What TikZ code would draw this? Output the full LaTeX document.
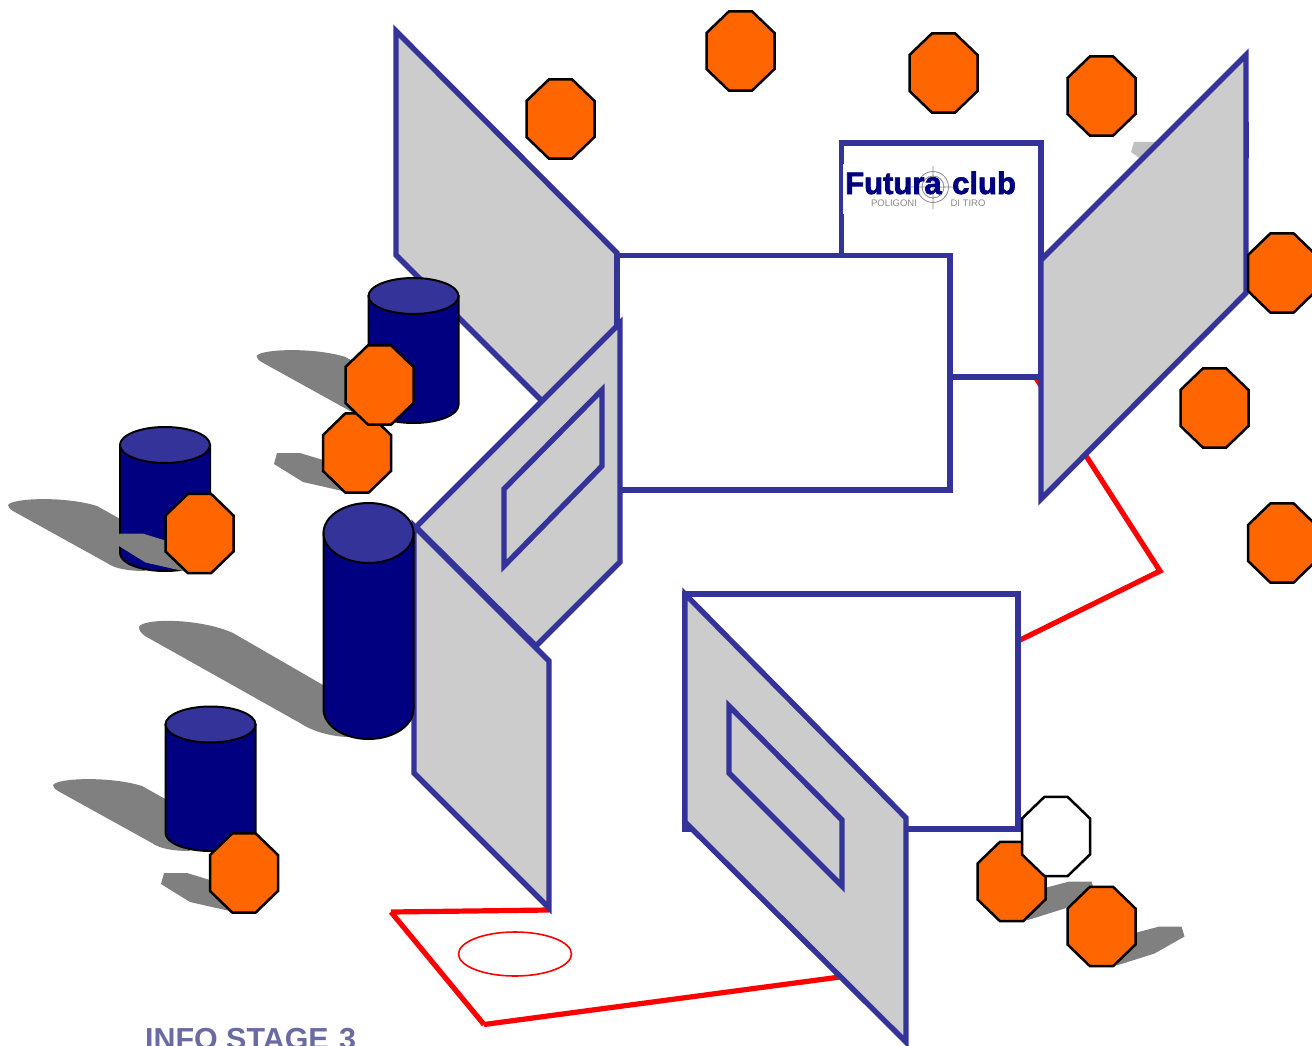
\documentclass[tikz,border=0pt]{standalone}
\usepackage{fontspec}
\setmainfont{Liberation Sans}
\newfontfamily\logofont[FakeBold=2.2]{Liberation Sans Bold}
\definecolor{wallblue}{HTML}{333399}
\definecolor{wallgrey}{HTML}{CCCCCC}
\definecolor{navybody}{HTML}{000080}
\definecolor{shadowgrey}{HTML}{808080}
\definecolor{paleshadow}{HTML}{C0C0C0}
\definecolor{targetorange}{HTML}{FF6600}
\definecolor{infotext}{HTML}{6B6BA3}
\definecolor{logogrey}{HTML}{8A8A8A}
\newcommand{\octa}[3]{%
  \draw[octastyle,fill=#3] (#1-34,#2-18) -- ++(22.5,-21.7) -- ++(23,0) -- ++(22.5,21.7) -- ++(0,36) -- ++(-22.5,21.7) -- ++(-23,0) -- ++(-22.5,-21.7) -- cycle;}
\newcommand{\cyl}[4]{%
  \draw[cylstyle,fill=navybody] (#1-45,#2) -- (#1-45,#3) arc[start angle=180,end angle=0,x radius=45,y radius=#4] -- (#1+45,#2) -- cycle;
  \draw[cylstyle,fill=wallblue] (#1,#2) circle[x radius=45,y radius=#4];}
\newcommand{\cylshadow}[2]{%
  \fill[shadowgrey,shift={(#1,#2)}] (8,505) .. controls (12,498) and (65,496) .. (97,506) -- (122,520) -- (145,571) .. controls (130,571) and (115,569) .. (107,563) -- (13,511) .. controls (10,509) and (8,507) .. (8,505) -- cycle;}
\newcommand{\octshadowL}[2]{%
  \fill[shadowgrey,shift={(#1,#2)}] (-80,0) -- (-57,0) -- (-34,7) -- (-10,39) -- (-54,29) -- (-83,11) -- cycle;}
\newcommand{\octshadowR}[2]{%
  \fill[shadowgrey,shift={(#1,#2)}] (35,6) -- (58,0) -- (80,0) -- (83,10) -- (53,27) -- (15,39) -- cycle;}
\tikzset{
  octastyle/.style={draw=black,line width=2.5pt,line join=miter},
  cylstyle/.style={draw=black,line width=2pt},
  wallstyle/.style={draw=wallblue,fill=wallgrey,line width=5.4pt,line join=miter,miter limit=10},
  roomstyle/.style={draw=wallblue,fill=white,line width=5.4pt},
  redline/.style={draw=red,line width=5.2pt,line join=miter},
}
\begin{document}
\begin{tikzpicture}[x=1pt,y=-1pt]
\useasboundingbox (0,0) rectangle (1312,1046);
\fill[white] (0,0) rectangle (1312,1046);
% red boundary lines
\coordinate (r1) at (1036,378);
\coordinate (r2) at (1160,571);
\coordinate (r3) at (1016,642);
\draw[redline] (r1) -- (r2) -- (r3);
\coordinate (r4) at (549,910);
\coordinate (r5) at (391,912);
\coordinate (r6) at (484,1024.5);
\coordinate (r7) at (840,977);
\draw[redline] (r4) -- (r5);
\draw[redline] (r5) -- (r6);
\draw[redline] (r6) -- (r7);
\draw[red,line width=1.6pt] (515,954) circle[x radius=56.5,y radius=22];
% pale shadow behind right wall
\fill[paleshadow] (1134,142) -- (1170,142) -- (1170,170) -- (1138,157) -- (1131,152) -- cycle;
\draw[wallblue,line width=2pt] (1248,122) -- (1248,158);
% back room with logo
\draw[roomstyle] (841.5,143) rectangle (1041,377);
\fill[white] (843,164) rectangle (1030,214);
\draw[logogrey,line width=.8pt] (933,187) circle[radius=15.5] (933,187) circle[radius=11] (933,166) -- (933,209) (911,187) -- (955,187);
\node[anchor=base west,inner sep=0pt,text=navybody,font=\logofont\fontsize{31}{31}\selectfont] (logoA) at (845,194) {Futura};
\node[anchor=base west,inner sep=0pt,text=navybody,font=\logofont\fontsize{31}{31}\selectfont] (logoB) at (952,194) {club};
\node[anchor=base,inner sep=0pt,text=logogrey,font=\fontsize{9.5}{9.5}\selectfont] (logoC) at (894,206) {POLIGONI};
\node[anchor=base,inner sep=0pt,text=logogrey,font=\fontsize{9.5}{9.5}\selectfont] (logoD) at (968,206) {DI TIRO};
% back-left wall and centre room
\draw[wallstyle] (396,31) -- (617,253) -- (617,476) -- (396,255) -- cycle;
\draw[roomstyle] (617,255.5) rectangle (950,490);
% angled wall with window
\draw[wallstyle] (416,527) -- (620,323) -- (620,562) -- (536,646) -- cycle;
\draw[wallstyle] (504,489) -- (602,390) -- (602,466) -- (504,566) -- cycle;
% front-left wall
\draw[wallstyle] (414,526) -- (549,661) -- (549,908) -- (414,773) -- cycle;
% right wall
\draw[wallstyle] (1041,260) -- (1246,55) -- (1246,293) -- (1041,499) -- cycle;
% lower room and front wall
\draw[roomstyle] (685,594) rectangle (1018,829);
\draw[wallstyle] (685,594) -- (906,818) -- (906,1042) -- (685,822) -- cycle;
\draw[wallstyle] (729,706) -- (842,820) -- (842,886) -- (729,773) -- cycle;
% shadows of cylinders
\cylshadow{248.5}{-149}
\cylshadow{0}{0}
\cylshadow{45}{280}
\fill[shadowgrey] (139,627) .. controls (142,618) and (200,618) .. (233,633) -- (323,685) -- (350,737) .. controls (330,737) and (310,730) .. (300,723) -- (145,636) .. controls (141,633) and (139,630) .. (139,627) -- cycle;
% cylinders
\cyl{413.5}{296}{405}{18}
\cyl{165}{445}{553}{18}
\cyl{368.5}{533}{709}{30}
\cyl{210.5}{724.5}{833}{18}
% shadows of octagons
\octshadowL{357}{453}
\octshadowL{199.5}{533.5}
\octshadowL{244}{873}
\octshadowR{1011.5}{881.5}
\octshadowR{1101.5}{926.5}
% octagons
\octa{560.5}{119}{targetorange}
\octa{740.5}{51}{targetorange}
\octa{943.5}{73}{targetorange}
\octa{1101.5}{96}{targetorange}
\octa{1282}{273}{targetorange}
\octa{1214.5}{408}{targetorange}
\octa{1282}{543}{targetorange}
\octa{357}{453}{targetorange}
\octa{379.5}{385}{targetorange}
\octa{199.5}{533.5}{targetorange}
\octa{244}{873}{targetorange}
\octa{1011.5}{881.5}{targetorange}
\octa{1056}{836.5}{white}
\octa{1101.5}{926.5}{targetorange}
\node[anchor=base west,inner sep=0pt,text=infotext,font=\bfseries\fontsize{30.4}{30.4}\selectfont] (info) at (145,1049) {INFO STAGE\hspace{2pt} 3};
\end{tikzpicture}
\end{document}
